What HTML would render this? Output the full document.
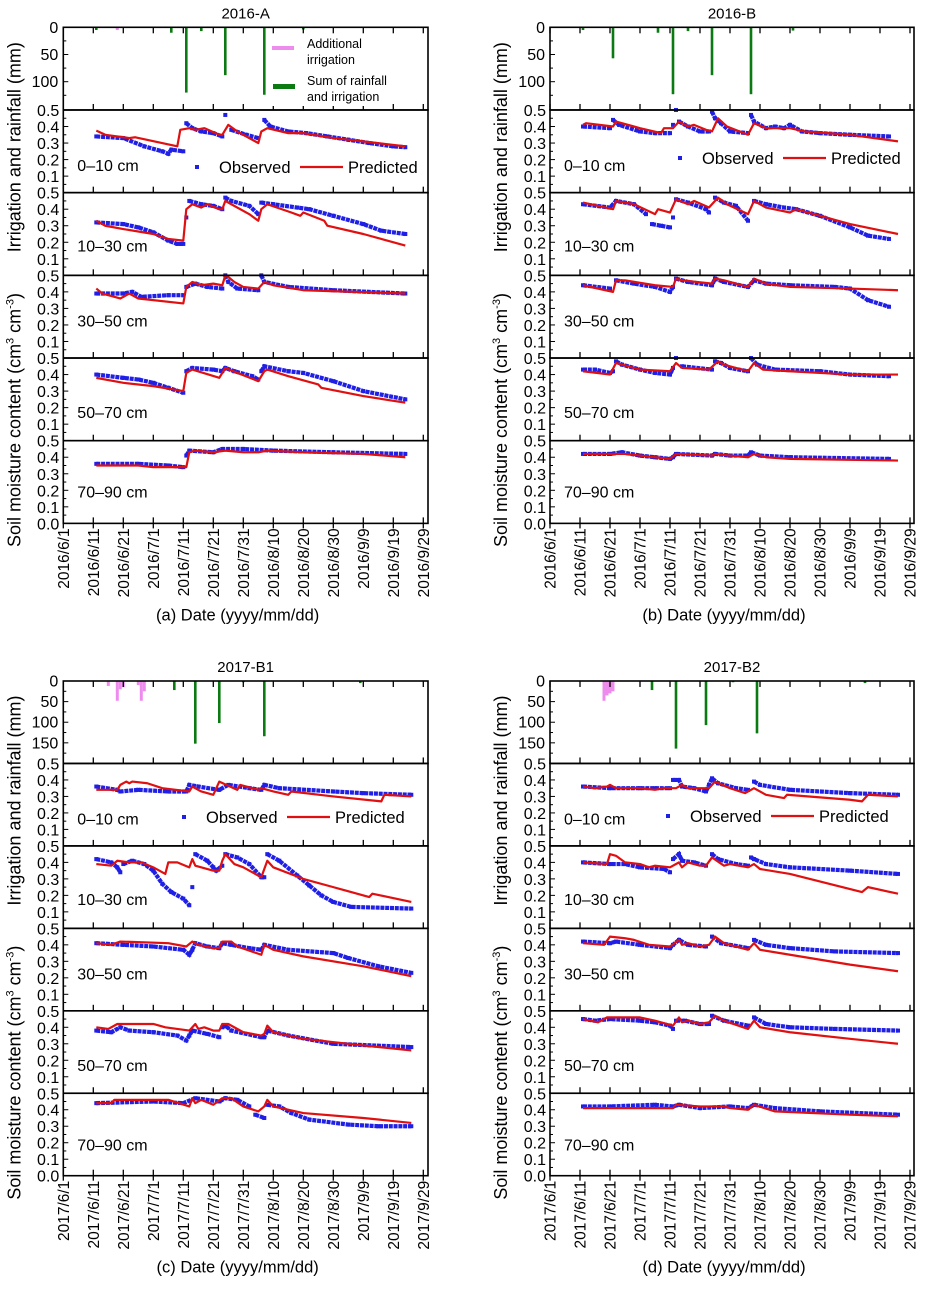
<!DOCTYPE html>
<html><head><meta charset="utf-8">
<style>
html,body{margin:0;padding:0;background:#fff;}
svg{display:block;font-family:"Liberation Sans",Arial,sans-serif;}
</style></head>
<body>
<svg id="fig" width="927" height="1293" viewBox="0 0 927 1293"></svg>
<script>
// ---------- Data (day index: days since June 1) ----------
const tickDays = [0,10,20,30,40,50,60,70,80,90,100,110,120];
const tickLabels2016 = ["2016/6/1","2016/6/11","2016/6/21","2016/7/1","2016/7/11","2016/7/21","2016/7/31","2016/8/10","2016/8/20","2016/8/30","2016/9/9","2016/9/19","2016/9/29"];
const tickLabels2017 = ["2017/6/1","2017/6/11","2017/6/21","2017/7/1","2017/7/11","2017/7/21","2017/7/31","2017/8/10","2017/8/20","2017/8/30","2017/9/9","2017/9/19","2017/9/29"];
const depthLabels = ["0\u201310 cm","10\u201330 cm","30\u201350 cm","50\u201370 cm","70\u201390 cm"];

// Rain / irrigation (mm)
const rainDaysA = [11,36,41,46,54,67,80];
const rainMmA   = [5,10,120,7,88,124,4];
const irrDaysA  = [18];
const irrMmA    = [5];
const rainDaysB = [11,21,36,41,46,54,67,81];
const rainMmB   = [5,57,10,123,7,88,123,6];
const irrDaysB  = [];
const irrMmB    = [];
const rainDaysC = [37,44,52,60,67,99];
const rainMmC   = [22,152,102,3,134,5];
const irrDaysC  = [15,18,19,20,25,26,27];
const irrMmC    = [12,48,20,15,10,48,25];
const rainDaysD = [20,34,42,52,61,69,105];
const rainMmD   = [15,22,164,107,3,127,5];
const irrDaysD  = [18,19,20,21];
const irrMmD    = [48,35,30,25];

// Observed / predicted soil moisture, [day, value]
const obsA = [
 [[11,.34],[20,.33],[27,.28],[33,.25],[35,.235],[36,.26],[40,.25],[41,.42],[43,.39],[46,.37],[50,.36],[53,.34],[54,.47],[56,.38],[61,.35],[65,.33],[67,.44],[69,.40],[75,.37],[81,.36],[88,.34],[95,.32],[102,.30],[110,.28],[114,.275]],
 [[11,.32],[20,.31],[25,.29],[30,.26],[35,.21],[38,.19],[40,.19],[41,.35],[42,.45],[46,.43],[50,.42],[53,.40],[54,.47],[56,.45],[62,.42],[65,.37],[66,.44],[70,.43],[78,.41],[82,.40],[90,.36],[100,.31],[106,.27],[114,.25]],
 [[11,.39],[20,.39],[23,.40],[26,.37],[35,.38],[40,.38],[41,.43],[44,.45],[48,.43],[53,.42],[54,.50],[55,.46],[58,.42],[65,.41],[66,.50],[67,.46],[75,.43],[90,.41],[114,.39]],
 [[11,.40],[20,.38],[25,.37],[30,.35],[35,.32],[40,.29],[41,.42],[43,.44],[50,.43],[53,.42],[54,.44],[57,.42],[63,.39],[65,.37],[66,.42],[67,.45],[75,.42],[80,.41],[90,.36],[100,.30],[114,.25]],
 [[11,.36],[25,.36],[35,.35],[40,.34],[41,.41],[42,.44],[50,.43],[53,.45],[60,.45],[70,.44],[90,.43],[114,.42]]
];
const predA = [
 [[11,.375],[14,.35],[22,.33],[24,.335],[38,.28],[39,.38],[42,.39],[44,.38],[47,.39],[52,.35],[53,.35],[55,.41],[58,.37],[65,.30],[66,.37],[68,.39],[75,.36],[80,.36],[90,.33],[100,.31],[114,.28]],
 [[11,.33],[14,.30],[20,.28],[30,.25],[35,.22],[40,.21],[41,.40],[43,.43],[46,.41],[48,.43],[52,.40],[53,.40],[54,.45],[56,.43],[62,.37],[65,.33],[66,.40],[68,.43],[76,.38],[79,.36],[80,.38],[87,.33],[88,.30],[100,.25],[114,.18]],
 [[11,.42],[13,.39],[19,.36],[22,.39],[25,.36],[40,.33],[41,.43],[43,.46],[46,.44],[50,.45],[53,.44],[54,.50],[55,.49],[57,.46],[60,.43],[65,.42],[67,.46],[70,.44],[80,.41],[114,.39]],
 [[11,.38],[20,.35],[30,.33],[40,.30],[41,.41],[43,.43],[52,.38],[54,.44],[58,.41],[65,.36],[67,.42],[68,.43],[75,.39],[85,.34],[86,.32],[100,.27],[114,.23]],
 [[11,.35],[25,.35],[30,.34],[41,.34],[42,.43],[44,.44],[50,.43],[54,.44],[60,.43],[65,.43],[68,.44],[80,.43],[100,.42],[114,.40]]
];
const obsB = [
 [[11,.40],[20,.39],[21,.44],[23,.41],[30,.37],[35,.36],[40,.36],[41,.41],[42,.50],[43,.43],[46,.40],[50,.37],[53,.37],[54,.49],[55,.45],[57,.42],[60,.37],[66,.36],[67,.47],[68,.43],[72,.39],[75,.40],[78,.39],[80,.41],[84,.37],[90,.36],[100,.35],[113,.34]],
 [[11,.43],[20,.41],[22,.45],[28,.43],[32,.37],[34,.31],[37,.30],[40,.29],[41,.35],[42,.46],[46,.44],[52,.40],[53,.38],[55,.47],[58,.44],[62,.42],[66,.33],[68,.45],[72,.43],[78,.41],[82,.40],[90,.36],[100,.29],[106,.24],[113,.22]],
 [[11,.44],[20,.42],[22,.47],[28,.45],[35,.43],[40,.40],[41,.43],[42,.48],[46,.46],[54,.44],[55,.48],[58,.46],[66,.43],[68,.47],[72,.45],[80,.44],[95,.43],[100,.42],[106,.35],[113,.31]],
 [[11,.43],[15,.43],[20,.41],[21,.42],[22,.48],[24,.46],[30,.43],[35,.41],[40,.40],[41,.44],[42,.50],[44,.45],[54,.43],[55,.48],[57,.47],[60,.44],[66,.42],[67,.50],[69,.46],[75,.43],[90,.42],[100,.40],[113,.39]],
 [[11,.42],[20,.42],[24,.43],[30,.41],[35,.40],[40,.39],[41,.40],[42,.42],[54,.41],[55,.42],[60,.41],[66,.41],[67,.43],[70,.41],[80,.40],[113,.39]]
];
const predB = [
 [[11,.41],[12,.42],[21,.40],[22,.43],[30,.39],[37,.36],[38,.39],[41,.39],[43,.43],[46,.40],[48,.41],[52,.38],[54,.37],[56,.45],[59,.40],[66,.35],[68,.42],[72,.39],[80,.39],[85,.37],[100,.35],[116,.31]],
 [[11,.44],[21,.40],[22,.45],[28,.43],[35,.37],[36,.40],[40,.38],[42,.46],[46,.43],[48,.45],[53,.41],[56,.47],[59,.43],[66,.37],[68,.45],[72,.41],[80,.38],[82,.40],[90,.36],[100,.31],[116,.25]],
 [[11,.44],[21,.40],[22,.47],[25,.47],[35,.44],[41,.43],[42,.48],[44,.47],[54,.45],[55,.48],[58,.47],[66,.43],[68,.48],[72,.45],[80,.43],[100,.42],[116,.41]],
 [[11,.42],[20,.40],[22,.47],[30,.43],[40,.42],[42,.47],[44,.44],[53,.43],[56,.48],[58,.46],[66,.42],[68,.47],[71,.43],[80,.42],[100,.40],[116,.40]],
 [[11,.42],[20,.42],[25,.42],[35,.40],[40,.39],[42,.42],[54,.41],[55,.42],[60,.41],[66,.40],[68,.42],[72,.40],[80,.39],[116,.38]]
];
const obsC = [
 [[11,.36],[18,.34],[19,.33],[25,.34],[35,.33],[41,.33],[42,.37],[45,.36],[52,.34],[55,.37],[62,.35],[66,.34],[67,.37],[72,.35],[90,.33],[100,.32],[116,.31]],
 [[11,.42],[16,.40],[18,.37],[19,.34],[20,.39],[23,.41],[27,.39],[30,.35],[33,.27],[36,.22],[40,.18],[42,.14],[43,.25],[44,.45],[48,.41],[50,.37],[51,.35],[53,.38],[54,.45],[58,.43],[62,.39],[66,.31],[67,.31],[68,.45],[72,.41],[78,.32],[82,.26],[86,.20],[90,.16],[96,.13],[116,.12]],
 [[11,.41],[20,.40],[30,.39],[40,.37],[42,.34],[43,.37],[44,.41],[48,.39],[52,.38],[53,.41],[56,.40],[62,.38],[66,.37],[67,.40],[75,.37],[90,.35],[95,.32],[105,.27],[116,.23]],
 [[11,.38],[16,.37],[19,.40],[22,.38],[30,.37],[38,.35],[41,.32],[42,.35],[43,.38],[48,.36],[52,.34],[53,.40],[54,.41],[56,.38],[66,.34],[67,.34],[68,.38],[75,.35],[90,.30],[116,.28]],
 [[11,.44],[30,.45],[40,.44],[44,.47],[52,.45],[54,.47],[58,.46],[62,.42],[64,.37],[67,.35],[68,.43],[72,.42],[76,.38],[82,.34],[95,.31],[105,.30],[116,.30]]
];
const predC = [
 [[11,.34],[18,.34],[19,.37],[21,.39],[22,.38],[23,.39],[28,.38],[33,.35],[42,.33],[43,.36],[46,.33],[50,.31],[52,.39],[58,.34],[59,.37],[65,.34],[66,.35],[70,.33],[75,.31],[76,.33],[90,.30],[106,.27],[107,.31],[116,.30]],
 [[11,.39],[16,.38],[18,.41],[22,.40],[26,.40],[30,.37],[34,.33],[35,.40],[38,.40],[42,.37],[43,.42],[44,.38],[50,.35],[52,.35],[53,.41],[54,.45],[57,.39],[60,.37],[66,.31],[67,.36],[68,.41],[70,.37],[80,.30],[90,.25],[102,.19],[103,.21],[116,.16]],
 [[11,.41],[16,.40],[19,.42],[35,.41],[41,.39],[43,.42],[45,.40],[50,.38],[52,.38],[53,.42],[56,.42],[58,.39],[66,.34],[67,.40],[70,.37],[80,.33],[100,.27],[116,.21]],
 [[11,.40],[15,.39],[18,.42],[30,.42],[34,.40],[42,.38],[44,.42],[45,.39],[47,.40],[50,.38],[52,.38],[53,.42],[55,.42],[60,.37],[66,.35],[67,.36],[68,.41],[70,.37],[80,.33],[100,.29],[116,.26]],
 [[11,.44],[16,.44],[17,.46],[35,.46],[42,.42],[43,.47],[44,.44],[46,.46],[50,.43],[53,.47],[56,.47],[60,.42],[65,.39],[67,.42],[68,.46],[70,.42],[80,.38],[100,.35],[116,.32]]
];
const obsD = [
 [[11,.36],[20,.35],[30,.35],[35,.35],[40,.35],[41,.40],[43,.40],[44,.36],[48,.35],[52,.33],[53,.37],[54,.41],[56,.38],[62,.35],[66,.34],[68,.39],[70,.37],[80,.34],[100,.32],[116,.31]],
 [[11,.40],[20,.39],[25,.39],[30,.37],[38,.36],[40,.34],[41,.42],[43,.45],[44,.41],[48,.40],[52,.38],[54,.45],[56,.42],[62,.39],[66,.38],[67,.43],[68,.42],[72,.39],[80,.37],[100,.35],[116,.33]],
 [[11,.42],[20,.41],[22,.42],[30,.40],[40,.38],[41,.40],[43,.43],[46,.40],[52,.39],[54,.45],[57,.41],[66,.38],[68,.43],[72,.40],[80,.38],[95,.36],[116,.35]],
 [[11,.45],[15,.44],[20,.45],[30,.44],[35,.43],[40,.41],[41,.39],[42,.44],[45,.44],[50,.42],[53,.42],[54,.47],[58,.44],[66,.41],[68,.46],[72,.42],[80,.40],[95,.39],[116,.38]],
 [[11,.42],[20,.42],[35,.43],[41,.42],[43,.43],[50,.41],[60,.42],[66,.41],[68,.43],[75,.41],[90,.39],[116,.37]]
];
const predD = [
 [[11,.36],[15,.35],[19,.36],[20,.37],[22,.35],[30,.35],[35,.34],[38,.35],[42,.35],[44,.37],[46,.35],[50,.35],[53,.35],[55,.39],[60,.35],[65,.32],[68,.35],[72,.31],[78,.29],[79,.31],[100,.28],[104,.27],[106,.31],[116,.30]],
 [[11,.40],[19,.39],[20,.45],[22,.44],[25,.40],[30,.39],[33,.37],[35,.38],[40,.37],[43,.40],[44,.37],[46,.40],[50,.38],[52,.38],[54,.43],[58,.38],[60,.39],[66,.37],[68,.39],[70,.36],[80,.33],[104,.22],[106,.25],[116,.21]],
 [[11,.41],[18,.40],[20,.45],[25,.44],[28,.43],[33,.40],[40,.39],[43,.43],[44,.40],[46,.41],[50,.39],[53,.40],[55,.45],[58,.41],[66,.37],[68,.41],[70,.37],[80,.34],[100,.28],[116,.24]],
 [[11,.45],[16,.43],[19,.46],[30,.46],[35,.44],[41,.41],[43,.46],[44,.43],[46,.44],[50,.42],[53,.43],[55,.47],[58,.44],[66,.39],[68,.44],[70,.40],[80,.37],[100,.33],[116,.30]],
 [[11,.41],[41,.41],[42,.43],[50,.42],[58,.42],[60,.41],[66,.40],[68,.43],[75,.39],[100,.37],[116,.36]]
];

// ---------- Drawing ----------
const NS = "http://www.w3.org/2000/svg";
const svg = document.getElementById("fig");
function mk(tag, attrs, parent){
  const e = document.createElementNS(NS, tag);
  for (const k in attrs) e.setAttribute(k, attrs[k]);
  (parent||svg).appendChild(e);
  return e;
}
function txt(s, attrs, parent){ const t = mk("text", attrs, parent); t.textContent = s; return t; }

const BLUE="#1f1fe6", RED="#e01010", GREEN="#0b7a12", PINK="#ee8cee";

function drawPanel(cfg){
  const g = mk("g", {});
  
  
  const L = cfg.left, R = cfg.right, T = cfg.top, H = cfg.h;
  const xs = d => L + d*3.0;
  const bottom = T + 6*H;

  const tt = txt(cfg.title, {x:(L+R)/2, y:T-9, "text-anchor":"middle","font-size":"15"}, g);
  
  

  // rain subplot
  const rs = v => T + v/cfg.rainMax*H;
  const rainG = mk("g", {}, g);
  
  
  cfg.rainDays.forEach((d,i)=>{
    const b = mk("rect", {x:xs(d)-1.3, y:T, width:2.6, height:rs(cfg.rainMm[i])-T, fill:GREEN}, rainG);
    
    
  });
  cfg.irrDays.forEach((d,i)=>{
    const b = mk("rect", {x:xs(d)-1.5, y:T, width:3, height:rs(cfg.irrMm[i])-T, fill:PINK}, rainG);
    
    
  });
  cfg.rainTicks.forEach(v=>{
    mk("line",{x1:L,x2:L+5,y1:rs(v),y2:rs(v),stroke:"#000","stroke-width":1},g);
    const l = txt(String(v),{x:L-5,y:rs(v)+5.5,"text-anchor":"end","font-size":"16"},g);
    
    
  });
  for (let v=25; v<cfg.rainMax; v+=50) mk("line",{x1:L,x2:L+3,y1:rs(v),y2:rs(v),stroke:"#000","stroke-width":1},g);

  // soil subplots
  for (let k=0;k<5;k++){
    const top = T + (k+1)*H, bot = top + H;
    const ys = v => bot - v/0.5*H;
    const lab = txt(depthLabels[k], {x:L+14, y:top+[55,53,45,54,51][k]+6, "font-size":"16"}, g);
    
    
    const vals = k===4 ? [0.5,0.4,0.3,0.2,0.1,0.0] : [0.5,0.4,0.3,0.2,0.1];
    vals.forEach(v=>{
      mk("line",{x1:L,x2:L+5,y1:ys(v),y2:ys(v),stroke:"#000","stroke-width":1},g);
      const l = txt(v.toFixed(1),{x:L-4,y:ys(v)+6,"text-anchor":"end","font-size":"16"},g);
      
      
    });
    for (let v=0.05; v<0.5; v+=0.1) mk("line",{x1:L,x2:L+3,y1:ys(v),y2:ys(v),stroke:"#000","stroke-width":1},g);

    // observed
    const obs = cfg.obs[k];
    const og = mk("g", {}, g);
    
    
    let seg = [];
    const flush = ()=>{
      if (seg.length>1){
        const p = mk("polyline",{points:seg.join(" "),fill:"none",stroke:BLUE,"stroke-width":4.2,"stroke-dasharray":"4 0.8"},og);
        
        
      }
      seg=[];
    };
    obs.forEach((p,i)=>{
      if (i>0 && Math.abs(p[1]-obs[i-1][1])>0.045 && (p[0]-obs[i-1][0])<=2) flush();
      seg.push(xs(p[0])+","+ys(p[1]));
      const s = mk("rect",{x:xs(p[0])-2,y:ys(p[1])-2,width:4,height:4,fill:BLUE},og);
      
      
    });
    flush();
    const pl = mk("polyline",{points:cfg.pred[k].map(p=>xs(p[0])+","+ys(p[1])).join(" "),fill:"none",stroke:RED,"stroke-width":2.2,"stroke-linejoin":"round"},g);
    
    
  }

  // frames and x ticks
  for (let k=0;k<6;k++){
    const top = T + k*H, bot = top+H;
    mk("rect",{x:L,y:top,width:R-L,height:H,fill:"none",stroke:"#000","stroke-width":1.6},g);
    tickDays.forEach(d=>{
      mk("line",{x1:xs(d),x2:xs(d),y1:bot,y2:bot-6,stroke:"#000","stroke-width":1.3},g);
      if (k===0) mk("line",{x1:xs(d),x2:xs(d),y1:top,y2:top+6,stroke:"#000","stroke-width":1.3},g);
    });
  }
  tickDays.forEach((d,i)=>{
    mk("line",{x1:xs(d),x2:xs(d),y1:bottom,y2:bottom+5,stroke:"#000","stroke-width":1.3},g);
    const l = txt(cfg.tickLabels[i],{transform:`translate(${xs(d)+5.5},${bottom+5}) rotate(-90)`,"text-anchor":"end","font-size":"15.5"},g);
    
    
  });
  const xt = txt(cfg.xTitle,{x:(L+R)/2-8,y:bottom+97,"text-anchor":"middle","font-size":"16.5"},g);
  
  

  const yx = L-43;
  const y1 = txt("Irrigation and rainfall (mm)",{transform:`translate(${yx},${T+H*1.45}) rotate(-90)`,"text-anchor":"middle","font-size":"18"},g);
  
  
  const y2 = mk("text",{transform:`translate(${yx},${T+H*4.75}) rotate(-90)`,"text-anchor":"middle","font-size":"18"},g);
  
  
  y2.innerHTML = 'Soil moisture content (cm<tspan dy="-7" font-size="11">3</tspan><tspan dy="7"> cm</tspan><tspan dy="-7" font-size="11">-3</tspan><tspan dy="7">)</tspan>';

  const lg = mk("g",{},g);
  
  
  const ly = cfg.legY;
  mk("rect",{x:cfg.legX-2,y:ly-2,width:4,height:4,fill:BLUE},lg);
  txt("Observed",{x:cfg.legX+22,y:ly+6,"font-size":"16.5"},lg);
  mk("line",{x1:cfg.legX+103,x2:cfg.legX+146,y1:ly,y2:ly,stroke:RED,"stroke-width":2.2},lg);
  txt("Predicted",{x:cfg.legX+151,y:ly+6,"font-size":"16.5"},lg);
  return g;
}

drawPanel({name:"panel-2016-a",title:"2016-A",left:63.3,right:428,top:27.3,h:82.68,rainMax:152,rainTicks:[0,50,100],
  rainDays:rainDaysA,rainMm:rainMmA,irrDays:irrDaysA,irrMm:irrMmA,obs:obsA,pred:predA,
  tickLabels:tickLabels2016,xTitle:"(a) Date (yyyy/mm/dd)",legX:197,legY:167});
drawPanel({name:"panel-2016-b",title:"2016-B",left:550,right:914,top:27.3,h:82.68,rainMax:152,rainTicks:[0,50,100],
  rainDays:rainDaysB,rainMm:rainMmB,irrDays:irrDaysB,irrMm:irrMmB,obs:obsB,pred:predB,
  tickLabels:tickLabels2016,xTitle:"(b) Date (yyyy/mm/dd)",legX:680,legY:158});
drawPanel({name:"panel-2017-b1",title:"2017-B1",left:63.3,right:428,top:681,h:82.45,rainMax:200,rainTicks:[0,50,100,150],
  rainDays:rainDaysC,rainMm:rainMmC,irrDays:irrDaysC,irrMm:irrMmC,obs:obsC,pred:predC,
  tickLabels:tickLabels2017,xTitle:"(c) Date (yyyy/mm/dd)",legX:184,legY:817});
drawPanel({name:"panel-2017-b2",title:"2017-B2",left:550,right:914,top:681,h:82.45,rainMax:200,rainTicks:[0,50,100,150],
  rainDays:rainDaysD,rainMm:rainMmD,irrDays:irrDaysD,irrMm:irrMmD,obs:obsD,pred:predD,
  tickLabels:tickLabels2017,xTitle:"(d) Date (yyyy/mm/dd)",legX:668,legY:816});

const rl = mk("g",{});


mk("rect",{x:268,y:36,width:122,height:70,fill:"#fff"},rl);
mk("rect",{x:272,y:46,width:22,height:4,fill:PINK},rl);
mk("rect",{x:273,y:84,width:22,height:5,fill:GREEN},rl);
txt("Additional",{x:307,y:48,"font-size":"12.5"},rl);
txt("irrigation",{x:307,y:64,"font-size":"12.5"},rl);
txt("Sum of rainfall",{x:307,y:85,"font-size":"12.5"},rl);
txt("and irrigation",{x:307,y:101,"font-size":"12.5"},rl);
</script>
</body></html>
